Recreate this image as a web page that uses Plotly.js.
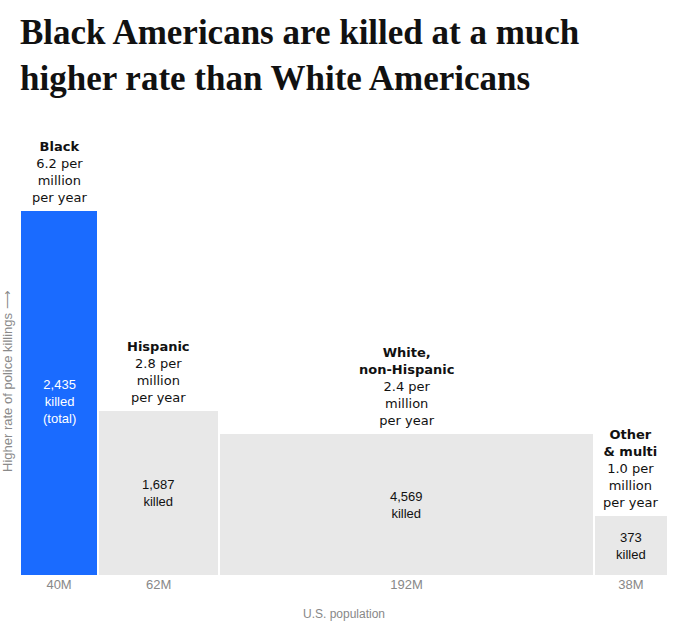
<!DOCTYPE html>
<html>
<head>
<meta charset="utf-8">
<script src="https://cdn.plot.ly/plotly-3.0.1.min.js"></script>
<style>html,body{margin:0;padding:0;background:#fff;}#chart{width:681px;height:635px;}</style>
</head>
<body>
<div id="chart"></div>
<script>
// Data
const groupNames = ["Black", "Hispanic", "White,<br>non-Hispanic", "Other<br>& multi"];
const populationM = [40, 62, 192, 38];
const ratePerMillion = [6.2, 2.8, 2.4, 1.0];
const killed = [2435, 1687, 4569, 373];
const killedSuffix = ["killed<br>(total)", "killed", "killed", "killed"];
const populationLabels = ["40M", "62M", "192M", "38M"];

// Styles
const barColors = ["#1a6bff", "#e8e8e8", "#e8e8e8", "#e8e8e8"];
const insideTextColors = ["#ffffff", "#111111", "#111111", "#111111"];
const insideShift = [-8, 0, 0, 0];
const gap = 1.2;

const starts = [];
let acc = 0;
populationM.forEach(p => { starts.push(acc); acc += p; });
const mids = starts.map((s, i) => s + populationM[i] / 2);
const total = acc;

const trace = {
  type: "bar",
  x: mids,
  y: ratePerMillion,
  width: populationM.map(p => p - gap),
  marker: { color: barColors, line: { width: 0 } },
  hoverinfo: "skip",
  showlegend: false
};

const annotations = [];
groupNames.forEach((name, i) => {
  annotations.push({
    x: mids[i], y: ratePerMillion[i], xref: "x", yref: "y",
    xanchor: "center", yanchor: "bottom", yshift: 4,
    showarrow: false, align: "center",
    text: "<b>" + name + "</b><br>" + ratePerMillion[i].toFixed(1) + " per<br>million<br>per year",
    font: { family: "DejaVu Sans, Verdana, sans-serif", size: 13, color: "#111" }
  });
  annotations.push({
    x: mids[i], y: ratePerMillion[i] / 2, xref: "x", yref: "y",
    xanchor: "center", yanchor: "middle", yshift: insideShift[i],
    showarrow: false, align: "center",
    text: killed[i].toLocaleString("en-US") + "<br>" + killedSuffix[i],
    font: { family: "Liberation Sans, Arial, sans-serif", size: 13, color: insideTextColors[i] }
  });
});
annotations.push({
  x: -0.019, y: 3.3, xref: "paper", yref: "y",
  xanchor: "center", yanchor: "middle", textangle: -90,
  showarrow: false,
  text: "Higher rate of police killings ⟶",
  font: { family: "Liberation Sans, Arial, sans-serif", size: 13, color: "#8a8a8a" }
});

const layout = {
  width: 681, height: 635,
  margin: { l: 20, r: 13, t: 130, b: 60 },
  paper_bgcolor: "#fff", plot_bgcolor: "#fff",
  title: {
    text: "Black Americans are killed at a much<br>higher rate than White Americans",
    x: 20 / 681, xref: "container", xanchor: "left",
    y: 1 - 44 / 635, yref: "container", yanchor: "top",
    font: { family: "Liberation Serif, Times New Roman, serif", size: 35, color: "#111", weight: "bold" }
  },
  xaxis: {
    range: [0, total], fixedrange: true,
    showgrid: false, zeroline: false, showline: false, ticks: "",
    tickmode: "array", tickvals: mids, ticktext: populationLabels,
    tickfont: { family: "Liberation Sans, Arial, sans-serif", size: 13, color: "#888" },
    title: { text: "U.S. population", standoff: 18,
      font: { family: "Liberation Sans, Arial, sans-serif", size: 12, color: "#888" } }
  },
  yaxis: {
    range: [0, 7.58], fixedrange: true,
    showgrid: false, zeroline: false, showline: false, showticklabels: false, ticks: ""
  },
  annotations: annotations,
  bargap: 0
};

Plotly.newPlot("chart", [trace], layout, { displayModeBar: false, staticPlot: true });
</script>
</body>
</html>
